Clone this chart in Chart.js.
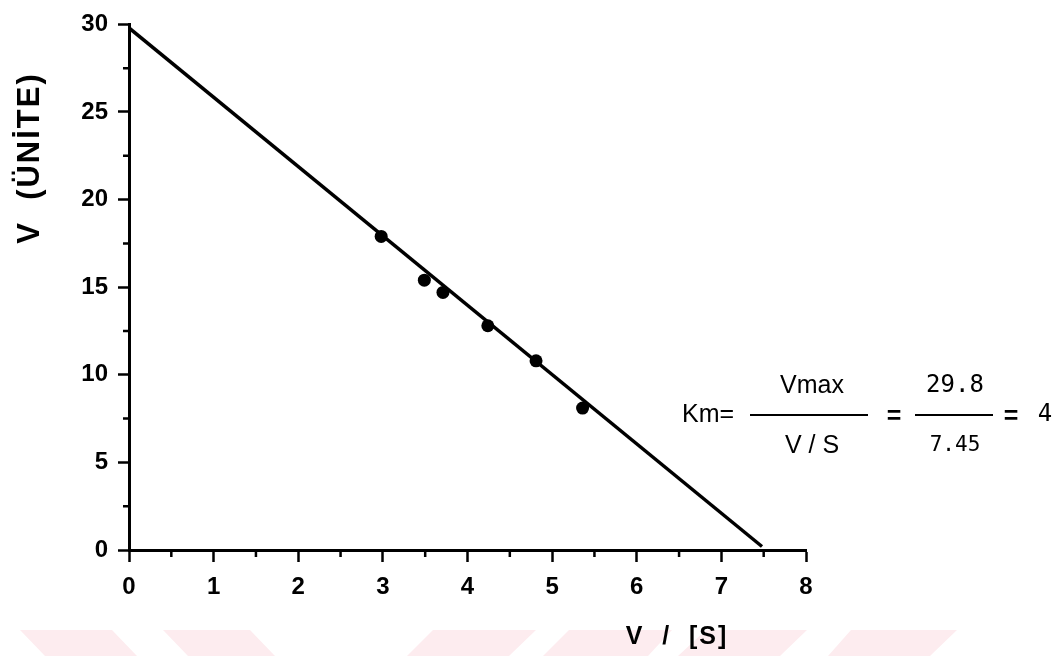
<!DOCTYPE html>
<html>
<head>
<meta charset="utf-8">
<script src="https://cdn.jsdelivr.net/npm/chart.js@4.4.0/dist/chart.umd.min.js"></script>
<style>
html, body { margin: 0; padding: 0; background: #fff; }
#wrap { width: 1064px; height: 656px; }
</style>
</head>
<body>
<div id="wrap"><canvas id="chart" width="1064" height="656"></canvas></div>
<script>
// values
const pointX = [2.98, 3.49, 3.71, 4.24, 4.81, 5.36];
const pointY = [17.9, 15.4, 14.7, 12.8, 10.8, 8.1];
const fitX = [0, 7.48];
const fitY = [29.8, 0.2];

const xTicks = [0, 1, 2, 3, 4, 5, 6, 7, 8];
const yTicks = [0, 5, 10, 15, 20, 25, 30];
const xMinor = [0.5, 1.5, 2.5, 3.5, 4.5, 5.5, 6.5, 7.5];
const yMinor = [2.5, 7.5, 12.5, 17.5, 22.5, 27.5];

const xTitle = 'V  /  [S]';
const yTitle = 'V  (ÜNİTE)';

const axisFont = { family: 'Liberation Sans, Arial, sans-serif', size: 24, weight: 'bold' };

// small half-unit ticks on both axes
const minorTicks = {
    id: 'minorTicks',
    afterDraw(chart) {
        const ctx = chart.ctx;
        const xs = chart.scales.x, ys = chart.scales.y;
        const a = chart.chartArea;
        ctx.save();
        ctx.strokeStyle = '#000';
        ctx.lineWidth = 2.5;
        ctx.beginPath();
        xMinor.forEach(v => {
            const px = xs.getPixelForValue(v);
            ctx.moveTo(px, a.bottom);
            ctx.lineTo(px, a.bottom + 7);
        });
        yMinor.forEach(v => {
            const py = ys.getPixelForValue(v);
            ctx.moveTo(a.left, py);
            ctx.lineTo(a.left - 6, py);
        });
        ctx.stroke();
        ctx.restore();
    }
};

// faint pink stripes along the bottom edge of the scan
const watermark = {
    id: 'watermark',
    beforeDraw(chart) {
        const ctx = chart.ctx;
        const shapes = [
            [20, 112, 137, 45], [163, 250, 275, 188],
            [433, 536, 509, 407], [569, 672, 648, 543],
            [706, 807, 780, 678], [851, 957, 930, 828]
        ];
        ctx.save();
        ctx.fillStyle = '#fdecef';
        shapes.forEach(s => {
            ctx.beginPath();
            ctx.moveTo(s[0], 630);
            ctx.lineTo(s[1], 630);
            ctx.lineTo(s[2], 656);
            ctx.lineTo(s[3], 656);
            ctx.closePath();
            ctx.fill();
        });
        ctx.restore();
    }
};

// axis titles and the Km formula
const labels = {
    id: 'labels',
    afterDraw(chart) {
        const ctx = chart.ctx;
        ctx.save();
        ctx.fillStyle = '#000';
        ctx.strokeStyle = '#000';
        ctx.textBaseline = 'middle';

        ctx.save();
        ctx.translate(30, 158);
        ctx.rotate(-Math.PI / 2);
        ctx.textAlign = 'center';
        ctx.font = 'bold 31px "Liberation Sans", Arial, sans-serif';
        ctx.letterSpacing = '2px';
        ctx.fillText(yTitle, 0, 0);
        ctx.restore();

        ctx.save();
        ctx.textAlign = 'center';
        ctx.font = 'bold 25px "Liberation Sans", Arial, sans-serif';
        ctx.letterSpacing = '2px';
        ctx.fillText(xTitle, 677, 637);
        ctx.restore();

        const lineY = 415;
        ctx.lineWidth = 2;
        ctx.beginPath();
        ctx.moveTo(750, lineY); ctx.lineTo(868, lineY);
        ctx.moveTo(915, lineY); ctx.lineTo(993, lineY);
        ctx.stroke();

        ctx.font = '25px "Liberation Sans", Arial, sans-serif';
        ctx.textAlign = 'left';
        ctx.fillText('Km=', 682, lineY);
        ctx.textAlign = 'center';
        ctx.fillText('Vmax', 812, lineY - 29);
        ctx.fillText('V / S', 812, lineY + 31);
        ctx.font = 'bold 25px "Liberation Sans", Arial, sans-serif';
        ctx.fillText('=', 894, lineY + 2);
        ctx.fillText('=', 1011, lineY + 2);

        ctx.font = '24px "DejaVu Sans Mono", monospace';
        ctx.fillText('29.8', 955, lineY - 29);
        ctx.fillText('4', 1045, lineY);
        ctx.font = '21px "DejaVu Sans Mono", monospace';
        ctx.fillText('7.45', 955, lineY + 31);
        ctx.restore();
    }
};

new Chart(document.getElementById('chart'), {
    type: 'scatter',
    data: {
        datasets: [
            {
                label: 'fit',
                data: fitX.map((x, i) => ({ x: x, y: fitY[i] })),
                showLine: true,
                borderColor: '#000',
                borderWidth: 3.5,
                pointRadius: 0,
                fill: false
            },
            {
                label: 'points',
                data: pointX.map((x, i) => ({ x: x, y: pointY[i] })),
                backgroundColor: '#000',
                borderColor: '#000',
                pointRadius: 6.5,
                pointBorderWidth: 0
            }
        ]
    },
    options: {
        responsive: false,
        animation: false,
        layout: { padding: { top: 17, right: 258, left: 0, bottom: 0 } },
        plugins: {
            legend: { display: false },
            tooltip: { enabled: false }
        },
        scales: {
            x: {
                type: 'linear',
                min: 0,
                max: 8,
                afterBuildTicks: s => { s.ticks = xTicks.map(v => ({ value: v })); },
                afterFit: s => { s.height = 106; },
                ticks: { color: '#000', font: axisFont, padding: 11, maxRotation: 0 },
                grid: { drawOnChartArea: false, drawTicks: true, tickLength: 12, tickWidth: 2.5, tickColor: '#000' },
                border: { color: '#000', width: 3 }
            },
            y: {
                type: 'linear',
                min: 0,
                max: 30,
                afterBuildTicks: s => { s.ticks = yTicks.map(v => ({ value: v })); },
                afterFit: s => { s.width = 129; },
                ticks: { color: '#000', font: axisFont, padding: 10 },
                grid: { drawOnChartArea: false, drawTicks: true, tickLength: 11, tickWidth: 2.5, tickColor: '#000' },
                border: { color: '#000', width: 3 }
            }
        }
    },
    plugins: [watermark, minorTicks, labels]
});
</script>
</body>
</html>
